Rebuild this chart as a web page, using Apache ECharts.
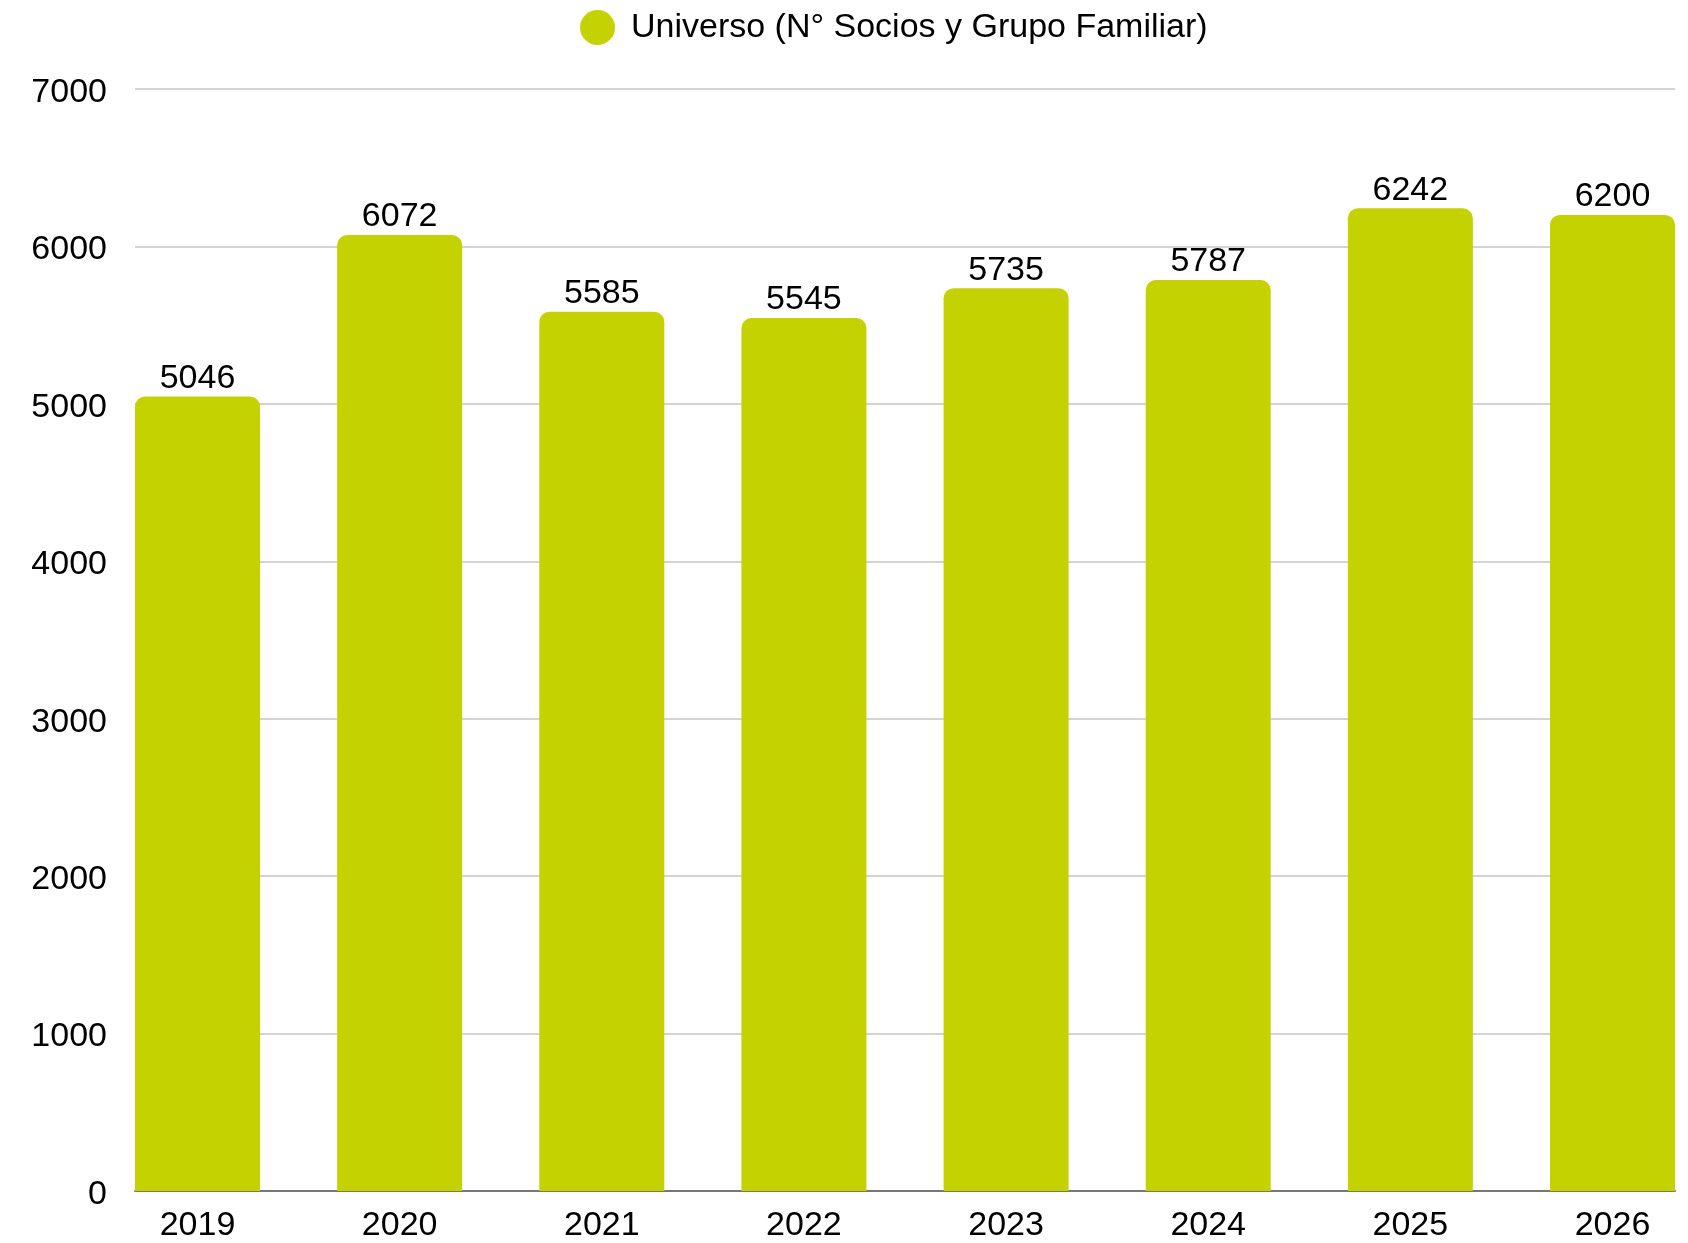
<!DOCTYPE html>
<html>
<head>
<meta charset="utf-8">
<script src="https://cdn.jsdelivr.net/npm/echarts@6/dist/echarts.min.js"></script>
<style>
  html, body { margin: 0; padding: 0; background: #fff; }
  #chart { width: 1688px; height: 1243px; }
</style>
</head>
<body>
<div id="chart"></div>
<script>
const years = ['2019', '2020', '2021', '2022', '2023', '2024', '2025', '2026']
const universo = [5046, 6072, 5585, 5545, 5735, 5787, 6242, 6200]
const seriesName = 'Universo (N° Socios y Grupo Familiar)'

const chart = echarts.init(document.getElementById('chart'))
const font = 'Liberation Sans, Arial, sans-serif'

// bars sit flush with both plot edges, so the x range runs half a bar past the first/last slot
const barWidth = 125
const plotWidth = 1688 - 135 - 13
const slot = (plotWidth - barWidth) / (years.length - 1)
const pad = (barWidth / 2) / slot

chart.setOption({
  animation: false,
  textStyle: { fontFamily: font },
  legend: {
    left: 575,
    top: 5,
    icon: 'circle',
    itemWidth: 35,
    itemHeight: 35,
    textStyle: { fontSize: 34, color: '#000', padding: [0, 0, 0, 11] },
    data: [seriesName]
  },
  grid: { left: 135, right: 13, top: 89, bottom: 51 },
  xAxis: {
    type: 'value',
    min: -pad,
    max: years.length - 1 + pad,
    axisLine: { show: true, lineStyle: { color: '#777', width: 2 } },
    axisTick: { show: false },
    splitLine: { show: false },
    axisLabel: {
      fontSize: 34,
      color: '#000',
      margin: 18,
      customValues: years.map((y, i) => i),
      formatter: v => years[Math.round(v)]
    }
  },
  yAxis: {
    type: 'value',
    min: 0,
    max: 7000,
    interval: 1000,
    axisLine: { show: false },
    axisTick: { show: false },
    axisLabel: {
      fontSize: 34,
      color: '#000',
      margin: 28,
      formatter: v => '{t|' + v + '}',
      rich: {
        t: { fontSize: 34, color: '#000', padding: [7, 0, 0, 0] }
      }
    },
    splitLine: { lineStyle: { color: '#c4c4c4', width: 1.5 } }
  },
  series: [
    {
      name: seriesName,
      type: 'bar',
      data: universo.map((v, i) => [i, v]),
      barWidth: barWidth,
      itemStyle: { color: '#c3d200', borderRadius: [10, 10, 0, 0] },
      label: {
        show: true,
        position: 'top',
        distance: 1,
        fontSize: 34,
        color: '#000',
        formatter: p => String(p.value[1])
      }
    }
  ]
})
</script>
</body>
</html>
